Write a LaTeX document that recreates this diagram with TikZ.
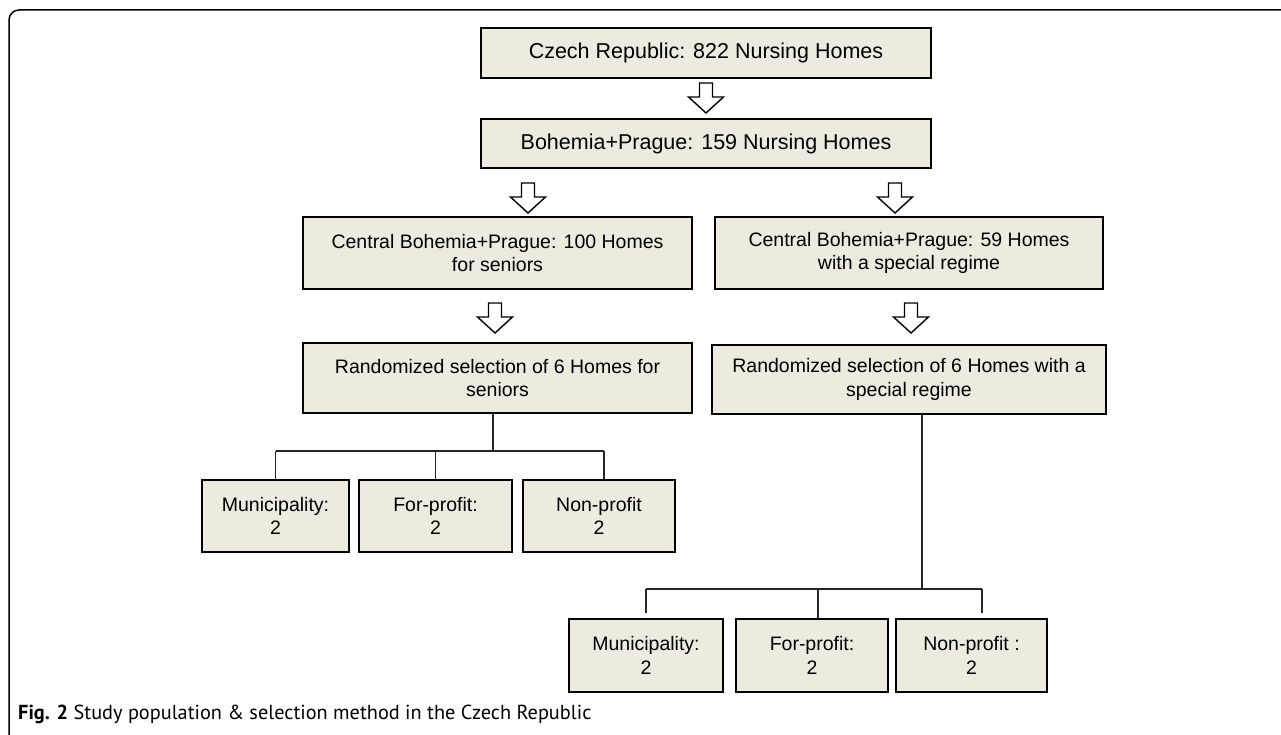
\documentclass[tikz,border=0pt]{standalone}
\usepackage{fontspec}
\setmainfont{Liberation Sans}
\newfontfamily\capfont{PT Sans}
\definecolor{boxfill}{RGB}{237,234,224}
\begin{document}
\begin{tikzpicture}[x=1pt,y=-1pt,
  box/.style={draw=black, line width=2pt, fill=boxfill, inner sep=0pt, align=center,
    font=\fontsize{19.5}{23.5}\selectfont},
  bigbox/.style={box, font=\fontsize{21.5}{26}\selectfont},
  link/.style={line width=1.1pt, draw=black!85},
  darr/.pic={\draw[line width=1.4pt, fill=white, line join=miter]
    (-6.5,0) -- (6.5,0) -- (6.5,14) -- (17.5,14) -- (0,30) -- (-17.5,14) -- (-6.5,14) -- cycle;}]
\useasboundingbox (0,0) rectangle (1281,735);
% frame
\draw[line width=1.5pt, rounded corners=10pt] (9,740) -- (9,10) -- (1290,10);
% boxes
\node[bigbox, minimum width=450, minimum height=50] (b1) at (706,53) {Czech Republic: 822 Nursing Homes};
\node[bigbox, minimum width=450, minimum height=49] (b2) at (706,143.5) {Bohemia+Prague: 159 Nursing Homes};
\node[box, minimum width=389, minimum height=72] (b3) at (497.5,253) {Central Bohemia+Prague: 100 Homes\\for seniors};
\node[box, minimum width=388, minimum height=72] (b4) at (909,253) {Central Bohemia+Prague: 59 Homes\\with a special regime};
\node[box, minimum width=389, minimum height=70] (b5) at (497.5,378) {Randomized selection of 6 Homes for\\seniors};
\node[box, minimum width=394, minimum height=69] (b6) at (909,379.5) {Randomized selection of 6 Homes with a\\special regime};
\node[box, minimum width=147, minimum height=72] (l1) at (275.5,516) {Municipality:\\2};
\node[box, minimum width=153, minimum height=72] (l2) at (435.5,516) {For-profit:\\2};
\node[box, minimum width=152, minimum height=72] (l3) at (599,516) {Non-profit\\2};
\node[box, minimum width=154, minimum height=73] (r1) at (646,655.5) {Municipality:\\2};
\node[box, minimum width=152, minimum height=73] (r2) at (812,655.5) {For-profit:\\2};
\node[box, minimum width=151, minimum height=73] (r3) at (971.5,655.5) {Non-profit :\\2};
% hollow arrows
\pic at (706,83) {darr};
\pic at (528,183) {darr};
\pic at (895,183) {darr};
\pic at (495,303) {darr};
\pic at (911,303) {darr};
% left tree
\coordinate (jl) at (493,451);
\coordinate (jlr) at (604,451);
\draw[link] (b5.south -| jl) -- (jl);
\draw[link] (jl -| l1.north) -- (jlr);
\draw[link] (jl -| l1.north) -- (l1.north);
\draw[link] (jl -| l2.north) -- (l2.north);
\draw[link] (jlr) -- (jlr |- l3.north);
% right tree
\coordinate (jr) at (922,589);
\coordinate (jrm) at (818,589);
\coordinate (jrr) at (982,589);
\draw[link] (b6.south -| jr) -- (jr);
\draw[link] (jr -| r1.north) -- (jrr);
\draw[link] (jr -| r1.north) -- ([yshift=5pt]r1.north);
\draw[link] (jrm) -- (jrm |- r2.north);
\draw[link] (jrr) -- ([yshift=5pt]jrr |- r3.north);
% caption
\node[anchor=base west, inner sep=0pt, font=\capfont\fontsize{20.3}{24}\selectfont] (cap) at (18,719)
  {\textbf{Fig. 2} Study population \& selection method in the Czech Republic};
\end{tikzpicture}
\end{document}
